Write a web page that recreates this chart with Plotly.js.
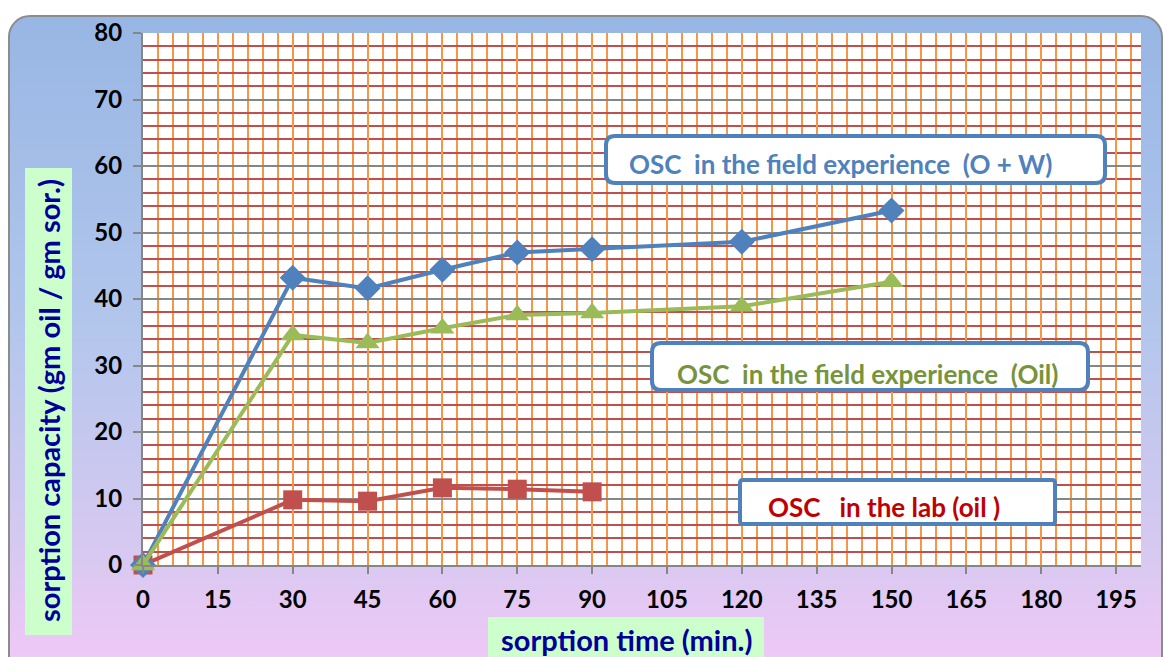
<!DOCTYPE html>
<html>
<head>
<meta charset="utf-8">
<script src="https://cdn.plot.ly/plotly-3.0.1.min.js"></script>
<style>
  html, body { margin:0; padding:0; width:1167px; height:657px; overflow:hidden; background:#ffffff; }
  #frame { position:absolute; left:8px; top:15px; width:1155px; height:680px; border:2px solid #8c8c8c; border-radius:22px;
           background: linear-gradient(to bottom, #98b6e4 0%, #b2c6ec 45%, #d8c9f1 80%, #f7c8f8 100%); box-sizing:border-box; }
  #chart { position:absolute; left:0; top:0; width:1167px; height:657px; }
</style>
</head>
<body>
<div id="frame"></div>
<div id="chart"></div>
<script>
// sorption time (min.)
const timeOW  = [0, 30, 45, 60, 75, 90, 120, 150];
const valueOW = [0, 43.2, 41.6, 44.4, 47.0, 47.5, 48.6, 53.3];   // field (O + W)
const timeOil  = [0, 30, 45, 60, 75, 90, 120, 150];
const valueOil = [0, 34.6, 33.4, 35.6, 37.6, 37.9, 38.9, 42.6];  // field (Oil)
const timeLab  = [0, 30, 45, 60, 75, 90];
const valueLab = [0, 9.8, 9.6, 11.6, 11.4, 11.0];                 // lab (oil)
const xTicks = [0, 15, 30, 45, 60, 75, 90, 105, 120, 135, 150, 165, 180, 195];
const yTicks = [0, 10, 20, 30, 40, 50, 60, 70, 80];

const labelFont = "Lato, 'Open Sans', sans-serif";

// plot area in pixels (for placing labels/boxes)
const L = 143, R = 1141, T = 33, B = 565;
const px = v => (v - L) / (R - L);
const py = v => (B - v) / (B - T);

function roundRect(x0, y0, x1, y1, r) {
  const X0 = px(x0), X1 = px(x1), Y0 = py(y0), Y1 = py(y1);
  const rx = r / (R - L), ry = r / (B - T);
  return `M ${X0+rx},${Y0} L ${X1-rx},${Y0} Q ${X1},${Y0} ${X1},${Y0-ry} L ${X1},${Y1+ry} Q ${X1},${Y1} ${X1-rx},${Y1} ` +
         `L ${X0+rx},${Y1} Q ${X0},${Y1} ${X0},${Y1+ry} L ${X0},${Y0-ry} Q ${X0},${Y0} ${X0+rx},${Y0} Z`;
}

const traces = [
  { x: timeLab, y: valueLab, mode: 'lines+markers', name: 'OSC in the lab (oil)', cliponaxis: false,
    line: {color:'#c0504d', width:4}, marker: {symbol:'square', size:19, color:'#c0504d'} },
  { x: timeOW, y: valueOW, mode: 'lines+markers', name: 'OSC in the field experience (O + W)', cliponaxis: false,
    line: {color:'#4f81bd', width:4}, marker: {symbol:'diamond', size:20, color:'#4f81bd'} },
  { x: timeOil, y: valueOil, mode: 'lines+markers', name: 'OSC in the field experience (Oil)', cliponaxis: false,
    line: {color:'#9bbb59', width:4}, marker: {symbol:'triangle-up', size:21, color:'#9bbb59'} }
];

const boxLine = {color:'#4f81bd', width:4};

const layout = {
  width: 1167, height: 657,
  margin: {l:L, r:1167-R, t:T, b:657-B},
  paper_bgcolor: 'rgba(0,0,0,0)',
  plot_bgcolor: '#ffffff',
  showlegend: false,
  font: {family: labelFont, color:'#000000'},
  xaxis: {
    range: [0, 200], tickvals: xTicks, ticktext: xTicks.map(String),
    showgrid: true, gridcolor:'#f79646', gridwidth: 2,
    minor: {dtick: 3, tick0: 0, showgrid: true, gridcolor:'#f79646', gridwidth: 2, ticks: ''},
    ticks: 'outside', ticklen: 7, tickcolor:'#868686', tickwidth: 2,
    showline: true, linecolor:'#868686', linewidth: 2,
    zeroline: false,
    tickfont: {family: labelFont, size: 24, color:'#000000', weight: 'bold'},
    ticklabelstandoff: 5
  },
  yaxis: {
    range: [0, 80], tickvals: yTicks, ticktext: yTicks.map(String),
    showgrid: true, gridcolor:'#868686', gridwidth: 2,
    minor: {dtick: 2, tick0: 0, showgrid: true, gridcolor:'#c0504d', gridwidth: 2, ticks: ''},
    ticks: 'outside', ticklen: 8, tickcolor:'#868686', tickwidth: 2,
    showline: true, linecolor:'#868686', linewidth: 2,
    zeroline: false,
    tickfont: {family: labelFont, size: 24, color:'#000000', weight: 'bold'},
    ticklabelstandoff: 6
  },
  shapes: [
    { type:'path', xref:'paper', yref:'paper', path: roundRect(606, 136, 1105, 183, 9),
      fillcolor:'#ffffff', line: boxLine, layer:'above' },
    { type:'path', xref:'paper', yref:'paper', path: roundRect(652, 343, 1088, 390, 9),
      fillcolor:'#ffffff', line: boxLine, layer:'above' },
    { type:'path', xref:'paper', yref:'paper', path: roundRect(740, 480, 1055, 524, 3),
      fillcolor:'#ffffff', line: boxLine, layer:'above' },
    { type:'rect', xref:'paper', yref:'paper', x0: px(488), x1: px(764), y0: py(617), y1: py(670),
      fillcolor:'#ccffcc', line:{width:0}, layer:'above' },
    { type:'rect', xref:'paper', yref:'paper', x0: px(25), x1: px(72), y0: py(168), y1: py(635),
      fillcolor:'#ccffcc', line:{width:0}, layer:'above' }
  ],
  annotations: [
    { xref:'paper', yref:'paper', x: px(627), y: py(164), xanchor:'left', yanchor:'middle',
      text:'OSC  in the field experience  (O + W)', showarrow:false,
      font:{family:labelFont, size:26, color:'#4f81bd', weight:'bold'} },
    { xref:'paper', yref:'paper', x: px(675), y: py(374), xanchor:'left', yanchor:'middle',
      text:'OSC  in the field experience  (Oil)', showarrow:false,
      font:{family:labelFont, size:26, color:'#77933c', weight:'bold'} },
    { xref:'paper', yref:'paper', x: px(766), y: py(507), xanchor:'left', yanchor:'middle',
      text:'OSC   in the lab (oil )', showarrow:false,
      font:{family:labelFont, size:26, color:'#c00000', weight:'bold'} },
    { xref:'paper', yref:'paper', x: px(626), y: py(639), xanchor:'center', yanchor:'middle',
      text:'sorption time (min.)', showarrow:false,
      font:{family:labelFont, size:29, color:'#000099', weight:'bold'} },
    { xref:'paper', yref:'paper', x: px(48), y: py(401), xanchor:'center', yanchor:'middle',
      text:'sorption capacity (gm oil / gm sor.)', showarrow:false, textangle:-90,
      font:{family:labelFont, size:29, color:'#000099', weight:'bold'} }
  ]
};

Plotly.newPlot('chart', traces, layout, {displayModeBar:false, staticPlot:true});
</script>
</body>
</html>
